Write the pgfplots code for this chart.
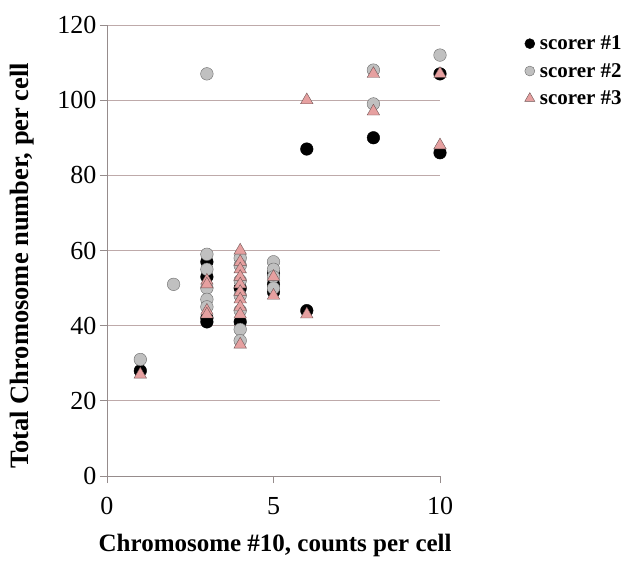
\documentclass[border=0pt]{standalone}
\usepackage{fontspec}
\setmainfont{Liberation Serif}
\usepackage{pgfplots}
\pgfplotsset{compat=1.18}

\definecolor{gridc}{RGB}{190,170,170}
\definecolor{axisc}{RGB}{150,140,140}
\definecolor{grayfill}{RGB}{192,192,192}
\definecolor{grayedge}{RGB}{105,105,105}
\definecolor{pinkfill}{RGB}{230,160,160}
\definecolor{pinkedge}{RGB}{110,85,85}

\begin{document}
\begin{tikzpicture}[x=1pt,y=1pt]
\path[use as bounding box] (-107,-89) rectangle (529,476);
\begin{axis}[
  at={(0,0)}, anchor=origin,
  scale only axis,
  width=333pt, height=451pt,
  xmin=0, xmax=10, ymin=0, ymax=120,
  xtick={0,5,10}, ytick={0,20,...,120},
  axis x line=bottom, axis y line=left,
  axis line style={axisc, -},
  tick style={axisc, thick},
  tick align=outside,
  major tick length=7pt,
  ymajorgrids,
  grid style={gridc, thick},
  tick label style={font=\fontsize{26}{28}\selectfont},
  xticklabel style={yshift=-11pt},
  /pgf/number format/assume math mode=true,
  xlabel={Chromosome \#10, counts per cell},
  ylabel={Total Chromosome number, per cell},
  xlabel style={font=\fontsize{25}{28}\selectfont\bfseries,
                at={(axis description cs:0.505,-0.153)}, anchor=center},
  ylabel style={font=\fontsize{26.5}{28}\selectfont\bfseries,
                at={(axis description cs:-0.255,0.466)}, anchor=center},
  clip=false,
  legend style={at={(1.245,0.985)}, anchor=north west, draw=none, fill=none,
                font=\fontsize{21}{24}\selectfont\bfseries, row sep=8pt,
                /tikz/every odd column/.append style={column sep=3pt}},
  legend cell align=left,
]
\addplot[only marks, mark=*, mark size=6.3pt, mark options={fill=black, draw=black},
         legend image post style={mark size=5pt}] coordinates {
  (1,28) (3,57) (3,53) (3,42) (3,41)
  (4,50) (4,41)
  (5,54) (5,51) (5,49)
  (6,87) (6,44) (8,90) (10,107) (10,86)
};
\addlegendentry{scorer \#1}
\addplot[only marks, mark=*, mark size=6.3pt, mark options={fill=grayfill, draw=grayedge},
         legend image post style={mark size=5pt}] coordinates {
  (1,31) (2,51) (3,107) (3,59) (3,55) (3,50) (3,47) (3,45)
  (4,58) (4,56) (4,52) (4,48) (4,44) (4,39) (4,36)
  (5,57) (5,55) (5,53) (5,50)
  (8,108) (8,99) (10,112)
};
\addlegendentry{scorer \#2}
\addplot[only marks, mark=triangle*, mark size=7.2pt, mark options={fill=pinkfill, draw=pinkedge},
         legend image post style={mark size=5.8pt}] coordinates {
  (1,27) (3,52) (3,51) (3,44) (3,43)
  (4,60) (4,57) (4,55) (4,53) (4,51) (4,49) (4,47) (4,45) (4,43) (4,35)
  (5,53) (5,48)
  (6,100) (6,43) (8,107) (8,97) (10,107) (10,88)
};
\addlegendentry{scorer \#3}
\end{axis}
\end{tikzpicture}
\end{document}
